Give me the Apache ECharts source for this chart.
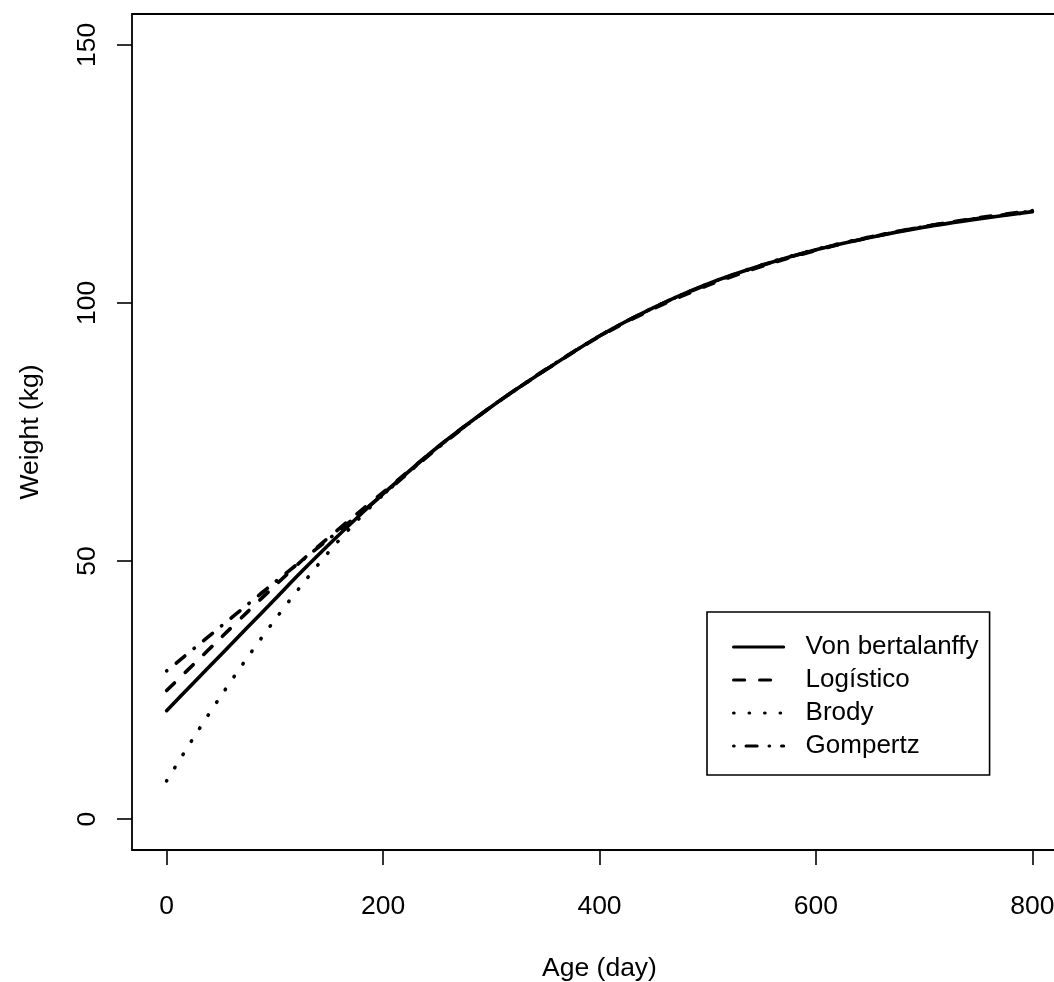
<!DOCTYPE html>
<html>
<head>
<meta charset="utf-8">
<script src="https://cdn.jsdelivr.net/npm/echarts@6.0.0/dist/echarts.min.js"></script>
<style>
  html, body { margin: 0; padding: 0; background: #fff; }
  #chart { width: 1054px; height: 982px; }
</style>
</head>
<body>
<div id="chart"></div>
<script>
// ages (day) and fitted weights (kg)
const ages = [0, 25, 50, 75, 100, 125, 150, 175, 200, 250, 300, 350, 400, 450, 500, 550, 600, 650, 700, 750, 800];
const vonBertalanffy = [21.0, 26.4, 31.8, 37.2, 42.6, 48.0, 53.2, 58.2, 63.0, 72.0, 79.9, 87.0, 93.6, 99.1, 103.7, 107.3, 110.3, 112.7, 114.7, 116.3, 117.7];
const logistico = [24.9, 30.0, 35.1, 40.2, 45.2, 50.1, 54.6, 59.0, 63.3, 72.0, 79.9, 87.0, 93.5, 98.9, 103.4, 107.1, 110.2, 112.7, 114.8, 116.5, 117.9];
const brody = [7.4, 15.8, 23.8, 31.4, 38.6, 45.4, 51.8, 57.6, 62.8, 71.9, 79.9, 87.0, 93.6, 99.1, 103.7, 107.4, 110.4, 112.8, 114.8, 116.4, 117.6];
const gompertz = [28.7, 33.0, 37.3, 41.6, 45.9, 50.1, 54.3, 58.6, 62.9, 71.8, 79.9, 87.1, 93.6, 99.1, 103.6, 107.3, 110.3, 112.8, 114.8, 116.4, 117.8];

const xTicks = [0, 200, 400, 600, 800];
const yTicks = [0, 50, 100, 150];

const FONT = "'Liberation Sans', Arial, sans-serif";

const pairs = (vals) => ages.map((a, i) => [a, vals[i]]);

const mkSeries = (name, vals, dash) => ({
  name: name,
  type: 'line',
  data: pairs(vals),
  symbol: 'none',
  smooth: 0.3,
  lineStyle: { color: '#000', width: 3.6, type: dash, cap: 'round' },
  itemStyle: { color: '#000' }
});

const chart = echarts.init(document.getElementById('chart'));

chart.setOption({
  backgroundColor: '#fff',
  animation: false,
  textStyle: { fontFamily: FONT },
  grid: {
    show: true,
    left: 132, top: 14, right: -13, bottom: 132,
    outerBoundsMode: 'none',
    containLabel: false,
    borderColor: '#000', borderWidth: 1.8,
    backgroundColor: 'transparent'
  },
  xAxis: {
    type: 'value',
    min: -32, max: 832,
    name: 'Age (day)',
    nameLocation: 'middle',
    nameGap: 105,
    nameTextStyle: { fontSize: 26.5, color: '#000', fontFamily: FONT },
    axisLine: { show: false, onZero: false },
    axisTick: { show: true, inside: false, length: 15, customValues: xTicks, lineStyle: { color: '#000', width: 1.6 } },
    axisLabel: { customValues: xTicks, margin: 43, fontSize: 26.5, color: '#000', fontFamily: FONT },
    splitLine: { show: false }
  },
  yAxis: {
    type: 'value',
    min: -6, max: 156,
    name: 'Weight (kg)',
    nameLocation: 'middle',
    nameGap: 88,
    nameRotate: 90,
    nameTextStyle: { fontSize: 26.5, color: '#000', fontFamily: FONT },
    axisLine: { show: false, onZero: false },
    axisTick: { show: true, inside: false, length: 15, customValues: yTicks, lineStyle: { color: '#000', width: 1.6 } },
    axisLabel: { customValues: yTicks, rotate: 90, margin: 31, fontSize: 26.5, color: '#000', fontFamily: FONT },
    splitLine: { show: false }
  },
  legend: {
    orient: 'vertical',
    left: 707, top: 612,
    padding: [22, 11, 16, 25],
    itemWidth: 50,
    itemHeight: 14,
    itemGap: 7,
    backgroundColor: '#fff',
    borderColor: '#000',
    borderWidth: 1.6,
    borderRadius: 0,
    itemStyle: { color: 'transparent', borderColor: 'transparent', borderWidth: 0 },
    lineStyle: { width: 3.2 },
    textStyle: { fontSize: 26, color: '#000', fontFamily: FONT, lineHeight: 26, padding: [0, 0, 0, 17] },
    data: ['Von bertalanffy', 'Logístico', 'Brody', 'Gompertz']
  },
  series: [
    mkSeries('Von bertalanffy', vonBertalanffy, 'solid'),
    mkSeries('Logístico', logistico, [11, 15]),
    mkSeries('Brody', brody, [0.5, 15]),
    mkSeries('Gompertz', gompertz, [0.5, 12, 11, 12])
  ]
});

window.addEventListener('resize', () => chart.resize());
</script>
</body>
</html>
